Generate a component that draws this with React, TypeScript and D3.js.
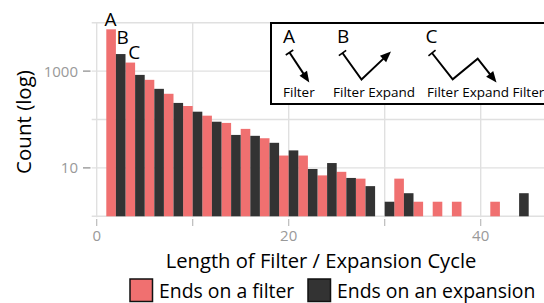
import React from 'react';
import * as d3 from 'd3';

// cycle lengths that end on a filter (odd) and on an expansion (even)
const filterLengths = [1, 3, 5, 7, 9, 11, 13, 15, 17, 19, 21, 23, 25, 27, 31, 33, 35, 37, 41];
const filterCounts = [7300, 1500, 660, 340, 190, 120, 85, 64, 41, 18, 18, 7, 8.3, 6, 6, 2, 2, 2, 2];
const expansionLengths = [2, 4, 6, 8, 10, 12, 14, 16, 18, 20, 22, 24, 26, 28, 30, 32, 44];
const expansionCounts = [2250, 835, 430, 220, 145, 90, 48, 46, 33, 23, 9.5, 12.6, 6.2, 4.2, 2, 3, 3];

const xGridTicks = [0, 10, 20, 30, 40];
const xLabelTicks = [0, 20, 40];
const yGridTicks = [1, 10, 100, 1000, 10000];
const yLabelTicks = [10, 1000];

const legendItems = ['Ends on a filter', 'Ends on an expansion'];

const RED = '#f07070';
const DARK = '#333333';
const GRID = '#e0e0e0';
const FONT = '"Open Sans", sans-serif';

const W = 544;
const H = 303;
const panel = { left: 91.7, right: 546, top: 22.7, bottom: 216.3 };

const x = d3.scaleLinear().domain([0, 45]).range([96.7, 528.7]);
const y = d3.scaleLog().domain([1, 10000]).range([216.3, 22.7]);

const line = d3.line<[number, number]>();

// little path glyph: line with a T-bar at the start and an arrow at the end
const Glyph: React.FC<{ pts: [number, number][] }> = ({ pts }) => {
  const [s0, s1] = [pts[0], pts[1]];
  const dx = s1[0] - s0[0];
  const dy = s1[1] - s0[1];
  const len = Math.hypot(dx, dy);
  const px = -dy / len;
  const py = dx / len;
  const bar = 4.5;
  const e1 = pts[pts.length - 2];
  const e0 = pts[pts.length - 1];
  const ex = e0[0] - e1[0];
  const ey = e0[1] - e1[1];
  const el = Math.hypot(ex, ey);
  const ux = ex / el;
  const uy = ey / el;
  const hl = 11;
  const hw = 4.5;
  const bx = e0[0] - ux * hl;
  const by = e0[1] - uy * hl;
  const head = `M${e0[0]},${e0[1]}L${bx - uy * hw},${by + ux * hw}L${bx + uy * hw},${by - ux * hw}Z`;
  const body = [...pts.slice(0, -1), [bx + ux * 1, by + uy * 1] as [number, number]];
  return (
    <g>
      <path d={line(body) ?? ''} fill="none" stroke="#000" strokeWidth={2} />
      <line
        x1={s0[0] - px * bar}
        y1={s0[1] - py * bar}
        x2={s0[0] + px * bar}
        y2={s0[1] + py * bar}
        stroke="#000"
        strokeWidth={1.6}
      />
      <path d={head} fill="#000" />
    </g>
  );
};

const App: React.FC = () => {
  const bars = [
    ...filterLengths.map((l, i) => ({ l, v: filterCounts[i], c: RED })),
    ...expansionLengths.map((l, i) => ({ l, v: expansionCounts[i], c: DARK })),
  ];

  const annotations = [
    { t: 'A', l: 1, v: filterCounts[0], dx: -0.5, dy: -3 },
    { t: 'B', l: 2, v: expansionCounts[0], dx: 2, dy: -10 },
    { t: 'C', l: 3, v: filterCounts[1], dx: 4, dy: -4 },
  ];

  return (
    <svg width={W} height={H} style={{ position: 'absolute', left: 0, top: 0 }} fontFamily={FONT}>
      <rect width={W} height={H} fill="#fff" />
      {/* grid */}
      {yGridTicks.map((t) => (
        <line key={'gy' + t} x1={panel.left} x2={panel.right} y1={y(t)} y2={y(t)} stroke={GRID} strokeWidth={1.4} />
      ))}
      {xGridTicks.map((t) => (
        <line key={'gx' + t} x1={x(t)} x2={x(t)} y1={panel.top} y2={panel.bottom + 1} stroke={GRID} strokeWidth={1.4} />
      ))}
      {/* x ticks */}
      {xGridTicks.map((t) => (
        <line key={'tx' + t} x1={x(t)} x2={x(t)} y1={219} y2={226} stroke="#bbb" strokeWidth={1.2} />
      ))}
      {xLabelTicks.map((t) => (
        <text key={'lx' + t} x={x(t)} y={241} textAnchor="middle" fontSize={15} fill="#999">
          {t}
        </text>
      ))}
      {/* y ticks */}
      {yLabelTicks.map((t) => (
        <g key={'ty' + t}>
          <line x1={83} x2={90.5} y1={y(t)} y2={y(t)} stroke="#888" strokeWidth={1.2} />
          <text x={78} y={y(t) + 5.5} textAnchor="end" fontSize={15} fill="#999">
            {t}
          </text>
        </g>
      ))}
      {/* bars */}
      {bars.map((b) => (
        <rect key={'b' + b.l} x={x(b.l)} width={x(b.l + 1) - x(b.l)} y={y(b.v)} height={y(1) - y(b.v)} fill={b.c} />
      ))}
      {annotations.map((a) => (
        <text key={a.t} x={x(a.l + 0.5) + a.dx} y={y(a.v) + a.dy} textAnchor="middle" fontSize={19} fill="#000">
          {a.t}
        </text>
      ))}
      {/* inset explaining cycle shapes */}
      <rect x={271} y={23} width={280} height={81} fill="#fff" stroke="#000" strokeWidth={2} />
      <text x={283} y={43} fontSize={19}>A</text>
      <text x={337} y={43} fontSize={19}>B</text>
      <text x={425.5} y={43} fontSize={19}>C</text>
      <Glyph pts={[[289.5, 52.5], [309.3, 82.5]]} />
      <Glyph pts={[[342.5, 53], [361.5, 79.5], [391, 51.5]]} />
      <Glyph pts={[[432, 53], [452.7, 79.3], [477.7, 58.7], [496.5, 82.5]]} />
      <text x={283} y={97} fontSize={13.5}>Filter</text>
      <text x={333} y={97} fontSize={13.5}>Filter Expand</text>
      <text x={427} y={97} fontSize={13.5}>Filter Expand Filter</text>
      {/* axis titles */}
      <text x={321} y={267.5} textAnchor="middle" fontSize={20.2} fill="#000">
        Length of Filter / Expansion Cycle
      </text>
      <text transform="translate(31,122) rotate(-90)" textAnchor="middle" fontSize={20.5} fill="#000">
        Count (log)
      </text>
      {/* legend */}
      {legendItems.map((it, i) => {
        const sx = i === 0 ? 130 : 308;
        return (
          <g key={it}>
            <rect x={sx} y={279} width={22.5} height={22.5} fill={i === 0 ? RED : DARK} stroke="#111" strokeWidth={1.5} />
            <text x={sx + 29} y={298} fontSize={19.4} fill="#000">
              {it}
            </text>
          </g>
        );
      })}
    </svg>
  );
};

export default App;
